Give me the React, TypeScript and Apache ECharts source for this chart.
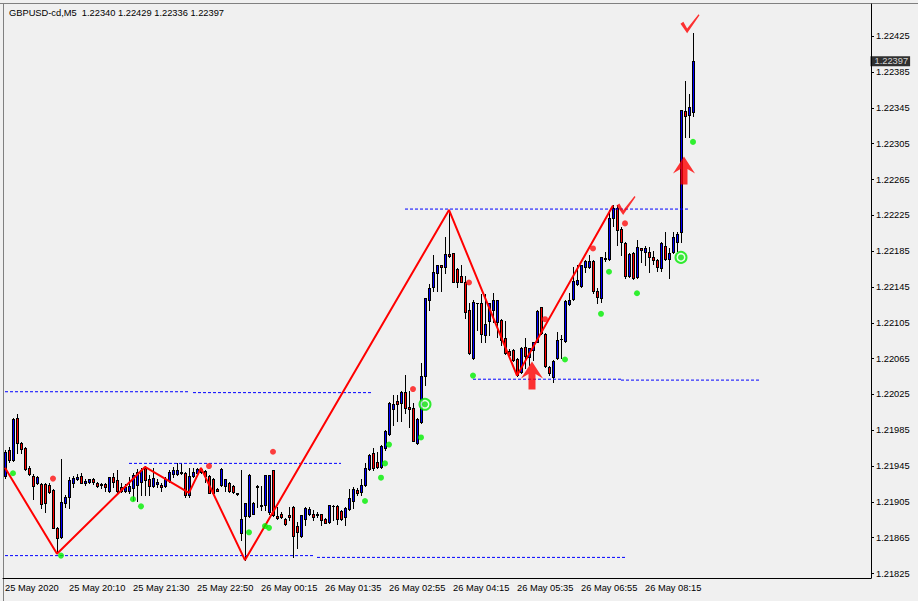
import React, { useEffect, useRef } from "react";
import * as echarts from "echarts";

const title = "GBPUSD-cd,M5  1.22340 1.22429 1.22336 1.22397";
const lastPrice = 1.22397;

const timeLabels = [
  "25 May 2020", "25 May 20:10", "25 May 21:30", "25 May 22:50", "26 May 00:15",
  "26 May 01:35", "26 May 02:55", "26 May 04:15", "26 May 05:35", "26 May 06:55", "26 May 08:15",
];
const yTickLabels = [
  1.21825, 1.21865, 1.21905, 1.21945, 1.21985, 1.22025, 1.22065, 1.22105,
  1.22145, 1.22185, 1.22225, 1.22265, 1.22305, 1.22345, 1.22385, 1.22425,
];

const opens = [
  1.21934, 1.21963, 1.21952, 1.21999, 1.21971, 1.21965, 1.21943, 1.21934, 1.21926, 1.21925,
  1.21925, 1.21924, 1.21918, 1.21876, 1.21866, 1.21904, 1.21911, 1.21926, 1.2193, 1.21934,
  1.21926, 1.21927, 1.2193, 1.21926, 1.21925, 1.21925, 1.21917, 1.21933, 1.21929, 1.21922,
  1.21917, 1.21917, 1.2192, 1.21924, 1.21927, 1.21943, 1.2193, 1.21923, 1.21925, 1.21924,
  1.21923, 1.21929, 1.21936, 1.21936, 1.21938, 1.21937, 1.21913, 1.21934, 1.21937, 1.21942,
  1.21939, 1.21934, 1.2193, 1.21919, 1.21924, 1.21923, 1.21926, 1.21923, 1.21915, 1.2187,
  1.21889, 1.21889, 1.21892, 1.21922, 1.219, 1.21901, 1.21894, 1.21941, 1.21889, 1.21892,
  1.21886, 1.2189, 1.21899, 1.21878, 1.21867, 1.21886, 1.21892, 1.21892, 1.21891, 1.21891,
  1.21886, 1.21882, 1.219, 1.219, 1.21895, 1.21888, 1.21897, 1.21906, 1.21918, 1.21916,
  1.21924, 1.21942, 1.2196, 1.21949, 1.21944, 1.21965, 1.21981, 1.22009, 1.22018, 1.22015,
  1.22028, 1.22011, 1.2201, 1.21971, 1.21994, 1.22046, 1.22131, 1.22145, 1.22161, 1.22169,
  1.22167, 1.22182, 1.22183, 1.22165, 1.22157, 1.22151, 1.22119, 1.22066, 1.22127, 1.22127,
  1.22091, 1.22107, 1.22119, 1.22106, 1.22108, 1.22088, 1.22074, 1.22075, 1.22065, 1.2205,
  1.22078, 1.22067, 1.22075, 1.22084, 1.22123, 1.22093, 1.22056, 1.22045, 1.22066, 1.22087,
  1.22085, 1.22126, 1.22132, 1.22148, 1.22146, 1.22167, 1.22167, 1.22174, 1.2214, 1.22133,
  1.22176, 1.22176, 1.22222, 1.22233, 1.2221, 1.22194, 1.22157, 1.22183, 1.22156, 1.22188,
  1.22184, 1.22184, 1.22178, 1.22175, 1.22166, 1.22191, 1.22176, 1.22184, 1.22195, 1.22206,
  1.22342, 1.22337, 1.2234,
];
const highs = [
  1.21963, 1.21966, 1.21999, 1.22003, 1.21972, 1.21966, 1.21945, 1.21936, 1.21934, 1.21926,
  1.21926, 1.21926, 1.21919, 1.21877, 1.21953, 1.21913, 1.21933, 1.21934, 1.21936, 1.21937,
  1.2193, 1.2193, 1.21932, 1.21927, 1.21926, 1.21926, 1.21933, 1.21937, 1.21941, 1.21926,
  1.21925, 1.21933, 1.21937, 1.21942, 1.21943, 1.21945, 1.21935, 1.21943, 1.2193, 1.21926,
  1.21933, 1.21941, 1.21944, 1.21948, 1.21948, 1.21938, 1.21943, 1.21943, 1.21943, 1.21943,
  1.21941, 1.21935, 1.21932, 1.2192, 1.21943, 1.2193, 1.21927, 1.21924, 1.21915, 1.21941,
  1.21904, 1.21936, 1.21905, 1.21924, 1.21923, 1.21935, 1.21935, 1.21941, 1.21899, 1.21894,
  1.21887, 1.21899, 1.219, 1.21882, 1.2189, 1.21899, 1.21899, 1.21896, 1.21894, 1.21892,
  1.21887, 1.21901, 1.21901, 1.21901, 1.21896, 1.21899, 1.21919, 1.21922, 1.2192, 1.2193,
  1.21948, 1.21958, 1.21965, 1.21961, 1.21968, 1.21985, 1.22017, 1.22024, 1.22024, 1.22029,
  1.22047, 1.22029, 1.22015, 1.21999, 1.2206, 1.22133, 1.22148, 1.22181, 1.2217, 1.2217,
  1.22201, 1.22231, 1.22183, 1.22166, 1.2217, 1.22157, 1.22127, 1.22131, 1.22127, 1.22137,
  1.22137, 1.22127, 1.22138, 1.22131, 1.22109, 1.22107, 1.22076, 1.22076, 1.22066, 1.22078,
  1.22088, 1.22077, 1.22084, 1.22119, 1.22123, 1.22094, 1.22057, 1.22064, 1.22095, 1.22091,
  1.22131, 1.22138, 1.22167, 1.2217, 1.2217, 1.22175, 1.22181, 1.22175, 1.22144, 1.22178,
  1.22184, 1.22231, 1.22237, 1.22237, 1.22212, 1.22195, 1.22183, 1.22184, 1.22197, 1.22188,
  1.22191, 1.2219, 1.22185, 1.22176, 1.22195, 1.22206, 1.22189, 1.22206, 1.22206, 1.22343,
  1.22375, 1.22361, 1.22429,
];
const lows = [
  1.21932, 1.21949, 1.21951, 1.2196, 1.2196, 1.21941, 1.21935, 1.21908, 1.21925, 1.21898,
  1.21894, 1.21915, 1.21876, 1.21848, 1.21865, 1.21899, 1.21898, 1.21922, 1.21929, 1.21926,
  1.21924, 1.21926, 1.21925, 1.21922, 1.2192, 1.21917, 1.21916, 1.21922, 1.21915, 1.21916,
  1.21916, 1.21915, 1.21907, 1.21906, 1.21913, 1.21913, 1.21913, 1.21922, 1.21922, 1.21917,
  1.21922, 1.21927, 1.21933, 1.21935, 1.21936, 1.2191, 1.2191, 1.21933, 1.21936, 1.21937,
  1.21927, 1.21915, 1.21915, 1.21917, 1.21923, 1.21917, 1.21916, 1.21915, 1.21913, 1.21862,
  1.2184, 1.21888, 1.21891, 1.21899, 1.21896, 1.21896, 1.21891, 1.21889, 1.21886, 1.21887,
  1.21879, 1.21885, 1.21844, 1.21854, 1.21866, 1.21879, 1.2189, 1.21885, 1.21888, 1.21879,
  1.21881, 1.21881, 1.21885, 1.2188, 1.21885, 1.21879, 1.21896, 1.21898, 1.21913, 1.21913,
  1.21923, 1.21941, 1.21941, 1.21943, 1.21943, 1.21963, 1.2198, 1.21991, 1.21995, 1.21995,
  1.22004, 1.21989, 1.21973, 1.2197, 1.21993, 1.22036, 1.22119, 1.2214, 1.2214, 1.2214,
  1.22161, 1.22178, 1.2215, 1.22145, 1.2215, 1.2211, 1.2207, 1.22065, 1.22097, 1.22083,
  1.22083, 1.22091, 1.22106, 1.22089, 1.2208, 1.2207, 1.22067, 1.22062, 1.22046, 1.22049,
  1.22055, 1.22058, 1.22064, 1.22083, 1.22093, 1.22056, 1.22047, 1.22039, 1.22065, 1.22066,
  1.22084, 1.22125, 1.22131, 1.22147, 1.22145, 1.22162, 1.22166, 1.22138, 1.22127, 1.22128,
  1.22174, 1.22175, 1.22213, 1.22192, 1.22181, 1.22155, 1.22156, 1.22154, 1.22155, 1.22173,
  1.22169, 1.22162, 1.22171, 1.22163, 1.22163, 1.22175, 1.22155, 1.22183, 1.22185, 1.22195,
  1.22313, 1.22313, 1.22336,
];
const closes = [
  1.21961, 1.21952, 1.21998, 1.21971, 1.21964, 1.21942, 1.21936, 1.21923, 1.21933, 1.21903,
  1.21904, 1.21916, 1.21876, 1.21865, 1.21905, 1.21911, 1.21929, 1.21932, 1.21933, 1.21926,
  1.21928, 1.2193, 1.21927, 1.21923, 1.21924, 1.21922, 1.21933, 1.21927, 1.21917, 1.21917,
  1.21922, 1.21923, 1.21935, 1.21938, 1.21941, 1.21929, 1.21923, 1.21932, 1.21927, 1.21922,
  1.2193, 1.21938, 1.21941, 1.21941, 1.21937, 1.21913, 1.21934, 1.21938, 1.21942, 1.21938,
  1.21934, 1.21915, 1.21915, 1.21917, 1.21942, 1.2193, 1.21917, 1.21916, 1.21914, 1.21886,
  1.21904, 1.21935, 1.21904, 1.21923, 1.21901, 1.21935, 1.21935, 1.2189, 1.21887, 1.21888,
  1.2188, 1.21888, 1.21867, 1.21871, 1.2189, 1.21898, 1.21897, 1.21888, 1.2189, 1.21885,
  1.21881, 1.21901, 1.219, 1.21886, 1.21886, 1.21898, 1.21909, 1.21919, 1.21915, 1.21924,
  1.21943, 1.21957, 1.21943, 1.21944, 1.21967, 1.21984, 1.22015, 1.22014, 1.22014, 1.22028,
  1.2201, 1.22009, 1.21973, 1.21998, 1.22046, 1.22133, 1.22144, 1.22162, 1.22169, 1.22167,
  1.22182, 1.2218, 1.22151, 1.2215, 1.22151, 1.22117, 1.22071, 1.22128, 1.22127, 1.22093,
  1.22104, 1.22127, 1.22131, 1.22131, 1.22086, 1.22071, 1.22069, 1.22064, 1.22047, 1.22077,
  1.22068, 1.22077, 1.22083, 1.22118, 1.22094, 1.22057, 1.22049, 1.22062, 1.22086, 1.22087,
  1.22129, 1.22131, 1.22152, 1.22153, 1.22169, 1.22174, 1.22174, 1.2214, 1.22134, 1.22178,
  1.22177, 1.22222, 1.22233, 1.22209, 1.22195, 1.22157, 1.22182, 1.22155, 1.2219, 1.22186,
  1.22188, 1.22179, 1.22175, 1.22167, 1.22194, 1.22176, 1.22183, 1.22201, 1.22204, 1.22343,
  1.22336, 1.22346, 1.22397,
];

// zigzag vertices (bar index, price)
const zigzagBars = [0, 13, 35, 46, 49, 60, 111, 128, 152];
const zigzagPrices = [1.21943, 1.21847, 1.21944, 1.21915, 1.21943, 1.2184, 1.22231, 1.22046, 1.22236];

// dashed level segments
const levelFrom = [0, 47, 31, 0, 78, 100, 117, 154];
const levelTo = [46, 92, 84, 77, 155, 171, 154, 189];
const levelPrice = [1.22028, 1.22027, 1.21948, 1.21845, 1.21843, 1.22232, 1.22042, 1.22041];

// signal dots
const redDotBars = [12, 51, 67, 102, 116, 135, 147, 155];
const redDotPrices = [1.21931, 1.21945, 1.21961, 1.22031, 1.2215, 1.22109, 1.22188, 1.22216];
const greenDotBars = [2, 14, 32, 34, 61, 65, 66, 90, 94, 95, 96, 104, 117, 140, 149, 151, 158, 172];
const greenDotPrices = [
  1.21937, 1.21845, 1.21908, 1.219, 1.21871, 1.21878, 1.21876, 1.21906, 1.21932, 1.21948,
  1.21969, 1.21977, 1.22046, 1.22064, 1.22115, 1.22162, 1.22138, 1.22307,
];
const ringBars = [105, 169];
const ringPrices = [1.22014, 1.22178];
const arrowBars = [132, 170];
const arrowPrices = [1.22046, 1.22275];
const checkBars = [155, 171];
const checkPrices = [1.22236, 1.22439];

const SLOTS = 217;
const LAST_SLOT = SLOTS - 1;
const FONT = "Liberation Sans";
const FS = 9.3;

const ARROW = "path://M11 0 L22 17 L14.5 12.5 L14.5 28 L7.5 28 L7.5 12.5 L0 17 Z";
const CHECK = "path://M0 10 L3 8 L7 15 L19 0 L20 1 L7 20 Z";

export default function App() {
  const ref = useRef<HTMLDivElement>(null);
  useEffect(() => {
    if (!ref.current) return;
    const chart = echarts.init(ref.current, undefined, { renderer: "svg" });
    const slots = Array.from({ length: SLOTS }, (_, i) =>
      i % 16 === 0 && i / 16 < timeLabels.length ? timeLabels[i / 16] : ""
    );
    const tickFn = (i: number) => i % 16 === 0 && i / 16 < timeLabels.length;
    const ohlc = opens.map((o, i) => [i, o, closes[i], lows[i], highs[i]]);
    const pair = (bars: number[], prices: number[]) => bars.map((b, i) => [b, prices[i]]);

    const renderCandle = (_params: any, api: any) => {
      const i = api.value(0);
      const o = api.value(1);
      const c = api.value(2);
      const l = api.value(3);
      const h = api.value(4);
      const pO = api.coord([i, o]);
      const pC = api.coord([i, c]);
      const pL = api.coord([i, l]);
      const pH = api.coord([i, h]);
      const n = Math.round(pO[0]);
      const top = Math.round(Math.min(pO[1], pC[1]));
      const bot = Math.round(Math.max(pO[1], pC[1]));
      const yH = Math.round(pH[1]);
      const yL = Math.round(pL[1]);
      const children: any[] = [
        {
          type: "rect",
          shape: { x: n, y: yH, width: 1, height: yL - yH + 1 },
          style: { fill: "#000" },
        },
        {
          type: "rect",
          shape: { x: n - 1, y: top, width: 3, height: bot - top + 1 },
          style: { fill: "#000" },
        },
      ];
      if (bot - top >= 2) {
        children.push({
          type: "rect",
          shape: { x: n, y: top + 1, width: 1, height: bot - top - 1 },
          style: { fill: c > o ? "#0000FF" : "#FF0000" },
        });
      }
      return { type: "group", children };
    };

    const levelSeries = levelFrom.map((f, i) => ({
      type: "line",
      data: [[f, levelPrice[i]], [levelTo[i], levelPrice[i]]],
      symbol: "none",
      lineStyle: { color: "#0000FF", width: 1, type: [3, 2] },
      z: 3,
      silent: true,
    }));

    chart.setOption({
      animation: false,
      backgroundColor: "#F0F0F0",
      grid: { left: 3, right: 47, top: 4, bottom: 23 },
      xAxis: {
        type: "category",
        data: slots,
        boundaryGap: true,
        axisLine: { lineStyle: { color: "#000", width: 1 } },
        axisTick: { alignWithLabel: true, interval: tickFn, length: 4, lineStyle: { color: "#000" } },
        axisLabel: {
          interval: tickFn,
          align: "left",
          margin: 5,
          color: "#000",
          fontFamily: FONT,
          fontSize: FS,
        },
        splitLine: { show: false },
      },
      yAxis: {
        type: "value",
        position: "right",
        min: 1.2182,
        max: 1.22461,
        splitLine: { show: false },
        axisLine: { show: true, lineStyle: { color: "#000", width: 1 } },
        axisTick: { show: true, length: 3, customValues: yTickLabels, lineStyle: { color: "#000" } },
        axisLabel: {
          customValues: yTickLabels,
          formatter: (v: number) => v.toFixed(5),
          margin: 5,
          color: "#000",
          fontFamily: FONT,
          fontSize: FS,
        },
      },
      graphic: [
        { type: "line", shape: { x1: 0, y1: 3.5, x2: 918, y2: 3.5 }, style: { stroke: "#808080", lineWidth: 1 }, silent: true },
        { type: "line", shape: { x1: 3.5, y1: 3, x2: 3.5, y2: 601 }, style: { stroke: "#808080", lineWidth: 1 }, silent: true },
        {
          type: "text",
          left: 9,
          top: 8,
          style: { text: title, fill: "#000", font: `${FS}px "${FONT}"` },
          silent: true,
        },
      ],
      series: [
        {
          type: "custom",
          data: ohlc,
          encode: { x: 0, y: [1, 2, 3, 4] },
          renderItem: renderCandle,
          z: 2,
          silent: true,
        },
        ...levelSeries,
        {
          type: "line",
          data: pair(zigzagBars, zigzagPrices),
          symbol: "none",
          lineStyle: { color: "#FF0000", width: 2 },
          z: 4,
          silent: true,
        },
        {
          type: "scatter",
          data: pair(redDotBars, redDotPrices),
          symbol: "circle",
          symbolSize: 6,
          itemStyle: { color: "#FF1010" },
          z: 5,
        },
        {
          type: "scatter",
          data: pair(greenDotBars, greenDotPrices),
          symbol: "circle",
          symbolSize: 6,
          itemStyle: { color: "#00F000" },
          z: 5,
        },
        {
          type: "scatter",
          data: pair(ringBars, ringPrices),
          symbol: "circle",
          symbolSize: 11,
          itemStyle: { color: "#E8FFE8", borderColor: "#00E800", borderWidth: 2 },
          z: 5,
        },
        {
          type: "scatter",
          data: pair(ringBars, ringPrices),
          symbol: "circle",
          symbolSize: 6,
          itemStyle: { color: "#10E010" },
          z: 6,
        },
        {
          type: "scatter",
          data: pair(arrowBars, arrowPrices),
          symbol: ARROW,
          symbolSize: [22, 28],
          symbolOffset: [-1, 0],
          itemStyle: { color: "#FF0000" },
          z: 6,
        },
        {
          type: "scatter",
          data: pair(checkBars, checkPrices),
          symbol: CHECK,
          symbolSize: [19, 19],
          symbolOffset: [1, 0],
          itemStyle: { color: "#FF0000" },
          z: 6,
        },
        {
          type: "scatter",
          data: [[LAST_SLOT, lastPrice]],
          symbol: "rect",
          symbolSize: 1,
          itemStyle: { color: "rgba(0,0,0,0)" },
          clip: false,
          z: 10,
          label: {
            show: true,
            position: "right",
            distance: 1,
            formatter: () => lastPrice.toFixed(5),
            backgroundColor: "#000",
            color: "#fff",
            fontFamily: FONT,
            fontSize: FS,
            padding: [1, 2, 0, 4],
          },
        },
      ],
    });
    return () => chart.dispose();
  }, []);
  return (
    <div
      ref={ref}
      style={{ position: "fixed", left: 0, top: 0, width: 918, height: 601 }}
    />
  );
}
